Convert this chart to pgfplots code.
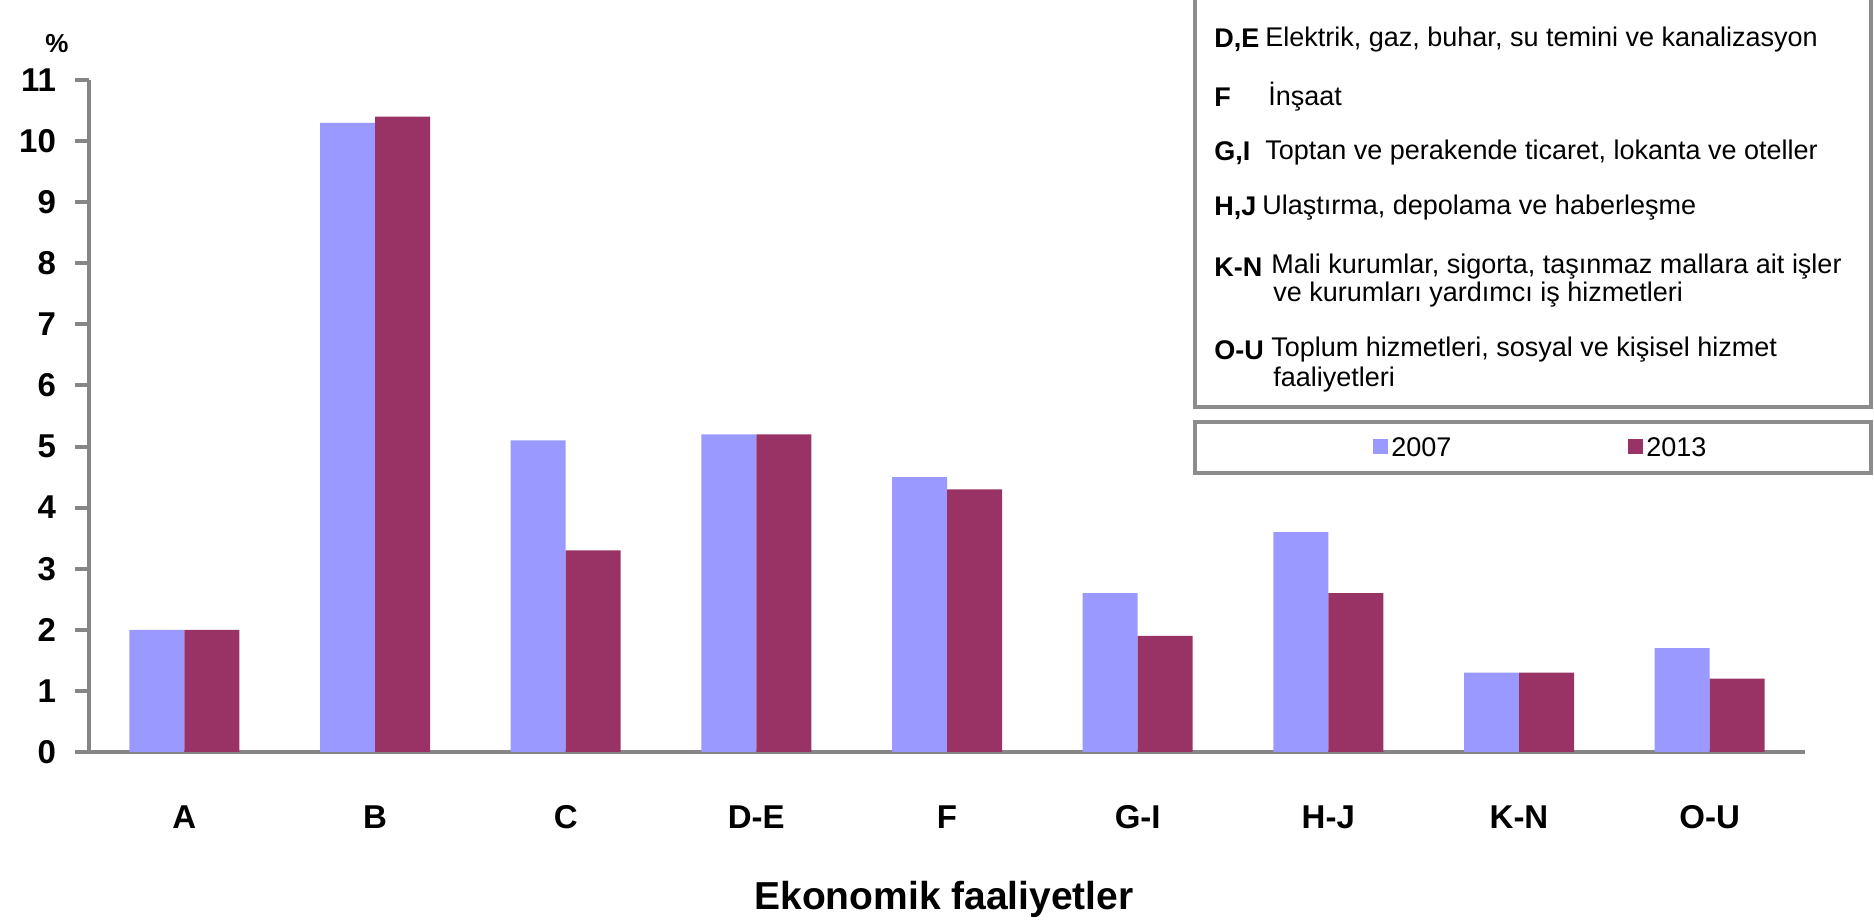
\documentclass[border=0pt]{standalone}
\usepackage{fontspec}
\setmainfont{Liberation Sans}
\usepackage{pgfplots}
\pgfplotsset{compat=1.18}
\definecolor{cA}{HTML}{9999FF}
\definecolor{cB}{HTML}{993366}
\definecolor{axg}{HTML}{868686}
\definecolor{boxg}{HTML}{8C8C8C}
\begin{document}
\begin{tikzpicture}[x=1pt,y=1pt]
\useasboundingbox (0,0) rectangle (937,460.5);
\begin{axis}[
 at={(44.5pt,84.5pt)}, anchor=south west,
 width=858pt, height=336pt, scale only axis,
 ybar=0pt, bar width=27.5pt,
 xmin=-0.5, xmax=8.5, ymin=0, ymax=11,
 xtick=data, xticklabels={A,B,C,D-E,F,G-I,H-J,K-N,O-U},
 ytick={0,1,...,11},
 axis lines*=left,
 axis line style={line width=2.2pt, color=axg, -},
 x tick style={draw=none},
 y tick style={line width=2pt, color=axg},
 tick align=outside, major tick length=7pt,
 ticklabel style={font=\bfseries\fontsize{16.5}{18}\selectfont},
 /pgf/number format/assume math mode=true,
 xticklabel style={anchor=base, yshift=-31.5pt},
 yticklabel style={anchor=east, xshift=-6pt},
 clip=false,
]
\addplot[fill=cA, draw=none] coordinates {(0,2.0) (1,10.3) (2,5.1) (3,5.2) (4,4.5) (5,2.6) (6,3.6) (7,1.3) (8,1.7)};
\addplot[fill=cB, draw=none] coordinates {(0,2.0) (1,10.4) (2,3.3) (3,5.2) (4,4.3) (5,1.9) (6,2.6) (7,1.3) (8,1.2)};
\end{axis}
% % sign
\node[font=\bfseries\fontsize{13}{15}\selectfont] at (28.5,438.5) {\%};
% x title
\node[font=\bfseries\fontsize{19.5}{22}\selectfont] at (472,11) {Ekonomik faaliyetler};
% description box
\draw[boxg, line width=1.6pt] (597.5,470) -- (597.5,257) -- (935.5,257) -- (935.5,470);
\begin{scope}[every node/.style={anchor=west, inner sep=0pt, font=\fontsize{13.5}{15}\selectfont}]
\node at (607,440.5) {\bfseries D,E};
\node at (632.5,440.5) {Elektrik, gaz, buhar, su temini ve kanalizasyon};
\node at (607,412) {\bfseries F};
\node at (634,412) {İnşaat};
\node at (607,384) {\bfseries G,I};
\node at (632.5,384) {Toptan ve perakende ticaret, lokanta ve oteller};
\node at (607,356.5) {\bfseries H,J};
\node at (631,356.5) {Ulaştırma, depolama ve haberleşme};
\node at (607,327) {\bfseries K-N};
\node at (635.5,327) {Mali kurumlar, sigorta, taşınmaz mallara ait işler};
\node at (636.5,313) {ve kurumları yardımcı iş hizmetleri};
\node at (607,285.5) {\bfseries O-U};
\node at (635.5,285.5) {Toplum hizmetleri, sosyal ve kişisel hizmet};
\node at (636.5,270.5) {faaliyetleri};
\end{scope}
% series legend box
\draw[boxg, line width=1.6pt] (597.5,249.5) rectangle (935.5,224);
\fill[cA] (686.5,233.5) rectangle (694,241);
\node[anchor=west, inner sep=0pt, font=\fontsize{13.5}{15}\selectfont] at (695.5,237) {2007};
\fill[cB] (814,233.5) rectangle (821.5,241);
\node[anchor=west, inner sep=0pt, font=\fontsize{13.5}{15}\selectfont] at (823,237) {2013};
\end{tikzpicture}
\end{document}
